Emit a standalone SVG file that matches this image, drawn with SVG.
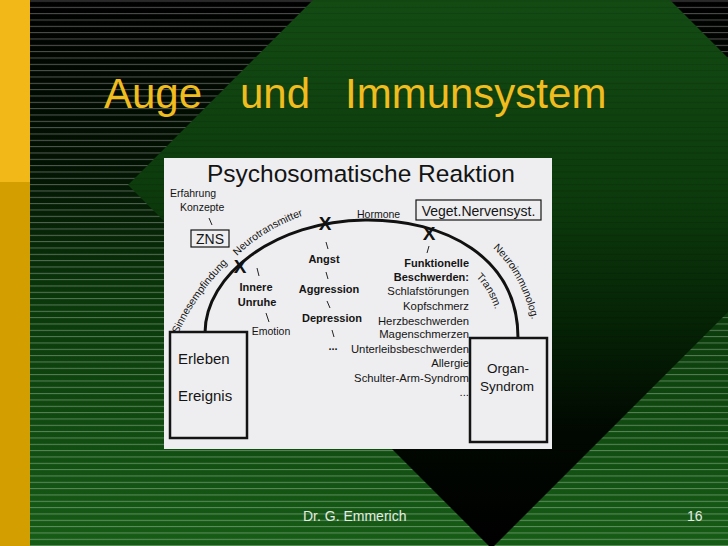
<svg xmlns="http://www.w3.org/2000/svg" width="728" height="546" viewBox="0 0 728 546">
<defs>
<linearGradient id="bgGrad" gradientUnits="userSpaceOnUse" x1="0" y1="0" x2="0" y2="546">
<stop offset="0" stop-color="#000000"/>
<stop offset="0.3" stop-color="#021202"/>
<stop offset="0.55" stop-color="#0a380a"/>
<stop offset="1" stop-color="#165c16"/>
</linearGradient>
<linearGradient id="diaGrad" gradientUnits="userSpaceOnUse" x1="0" y1="0" x2="0" y2="546">
<stop offset="0" stop-color="#134b13"/>
<stop offset="0.37" stop-color="#0c3a0c"/>
<stop offset="0.6" stop-color="#052205"/>
<stop offset="0.79" stop-color="#010801"/>
<stop offset="1" stop-color="#000000"/>
</linearGradient>
<pattern id="stripes" patternUnits="userSpaceOnUse" x="0" y="0.5" width="728" height="6.333">
<rect x="0" y="0" width="728" height="1" fill="#ffffff" fill-opacity="0.32"/>
</pattern>
<pattern id="stripesDark" patternUnits="userSpaceOnUse" x="0" y="0.5" width="728" height="6.333">
<rect x="0" y="0" width="728" height="1" fill="#000000" fill-opacity="0.12"/>
</pattern>
<path id="pSinn" d="M178,334 Q198,290 240,251"/>
<path id="pNeuro" d="M237,256 Q268,225 320,210"/>
<path id="pImmun" d="M493,248 Q525,278 535,334"/>
<path id="pTrans" d="M476,277 Q491,292 497,316"/>
</defs>
<style>
.f{font-family:"Liberation Sans",Arial,sans-serif}
.title{fill:#F0BC1E;font-size:42px}
.foot{fill:#e4ebe4;font-size:14px}
.ink{fill:#141414}
.s{font-size:10.5px}
.m{font-size:11.3px}
.bd{font-weight:bold;font-size:11px}
.box{fill:none;stroke:#141414;stroke-width:2.5}
.thin{fill:none;stroke:#141414;stroke-width:1.2}
.arc{fill:none;stroke:#111;stroke-width:3}
.tick{stroke:#222;stroke-width:1;fill:none}
.x{font-weight:bold;font-size:19px;fill:#111}
</style>
<g id="background">
<rect width="728" height="546" fill="url(#bgGrad)"/>
<rect width="728" height="546" fill="url(#stripes)"/>
<polygon points="491.5,-178.5 855,185 491.5,548.5 128,185" fill="url(#diaGrad)"/>
<polygon points="491.5,-178.5 855,185 491.5,548.5 128,185" fill="url(#stripesDark)"/>
<rect x="0" y="0" width="30" height="182" fill="#F2B817"/>
<rect x="0" y="182" width="30" height="364" fill="#D29E00"/>
</g>
<g id="title" class="f title">
<text x="104" y="108">Auge</text>
<text x="240" y="108">und</text>
<text x="345" y="108">Immunsystem</text>
</g>
<g id="footer" class="f foot">
<text x="303" y="521">Dr. G. Emmerich</text>
<text x="687" y="521">16</text>
</g>
<g id="scan">
<rect x="164" y="158" width="388" height="291" fill="#EEEEF0"/>
<text class="f ink" x="207" y="182" font-size="24.5">Psychosomatische Reaktion</text>
</g>
<g id="connectors">
<path class="arc" d="M205,333 C205,275 275,221 365,220 C445,219 518,257 518,338"/>
<line class="tick" x1="209" y1="218" x2="212" y2="225"/>
<line class="tick" x1="326" y1="242" x2="328" y2="249"/>
<line class="tick" x1="326" y1="272" x2="328" y2="279"/>
<line class="tick" x1="327" y1="301" x2="330" y2="308"/>
<line class="tick" x1="332" y1="330" x2="334" y2="337"/>
<line class="tick" x1="257" y1="268" x2="259" y2="276"/>
<line class="tick" x1="266" y1="313" x2="269" y2="322"/>
<line class="tick" x1="429" y1="246" x2="427" y2="253"/>
</g>
<g id="arc-labels" class="f ink s">
<text><textPath href="#pSinn">Sinnesempfindung</textPath></text>
<text><textPath href="#pNeuro">Neurotransmitter</textPath></text>
<text x="357" y="218">Hormone</text>
<text><textPath href="#pImmun">Neuroimmunolog.</textPath></text>
<text><textPath href="#pTrans">Transm.</textPath></text>
</g>
<g id="marks" class="f">
<text class="x" x="240" y="273" text-anchor="middle">X</text>
<text class="x" x="325" y="230" text-anchor="middle">X</text>
<text class="x" x="429" y="240" text-anchor="middle">X</text>
</g>
<g id="erfahrung" class="f ink s">
<text x="170" y="197">Erfahrung</text>
<text x="180" y="211">Konzepte</text>
</g>
<g id="zns">
<rect class="thin" x="191" y="230" width="38" height="17"/>
<text class="f ink" x="210" y="244" font-size="14" text-anchor="middle">ZNS</text>
</g>
<g id="veget">
<rect class="thin" x="416" y="200" width="125" height="20"/>
<text class="f ink" x="478.5" y="215.5" font-size="14" text-anchor="middle">Veget.Nervensyst.</text>
</g>
<g id="emotion" class="f ink" text-anchor="middle">
<text class="bd" x="256" y="291">Innere</text>
<text class="bd" x="257" y="306">Unruhe</text>
<text class="s" x="271" y="335">Emotion</text>
</g>
<g id="affekt" class="f ink bd" text-anchor="middle">
<text x="324" y="263">Angst</text>
<text x="329" y="293">Aggression</text>
<text x="332" y="322">Depression</text>
<text x="333" y="350">...</text>
</g>
<g id="beschwerden" class="f ink" text-anchor="end">
<text class="bd" x="469" y="267">Funktionelle</text>
<text class="bd" x="469" y="281">Beschwerden:</text>
<text class="m" x="469" y="295">Schlafstörungen</text>
<text class="m" x="469" y="310">Kopfschmerz</text>
<text class="m" x="469" y="325">Herzbeschwerden</text>
<text class="m" x="469" y="338">Magenschmerzen</text>
<text class="m" x="469" y="353">Unterleibsbeschwerden</text>
<text class="m" x="469" y="367">Allergie</text>
<text class="m" x="469" y="382">Schulter-Arm-Syndrom</text>
<text class="m" x="469" y="396">...</text>
</g>
<g id="erleben">
<rect class="box" x="170" y="332" width="77" height="106"/>
<text class="f ink" x="178" y="364" font-size="15">Erleben</text>
<text class="f ink" x="178" y="401" font-size="15">Ereignis</text>
</g>
<g id="organ">
<rect class="box" x="470" y="338" width="77" height="104"/>
<text class="f ink" x="508" y="373" font-size="13.5" text-anchor="middle">Organ-</text>
<text class="f ink" x="507" y="391" font-size="13.5" text-anchor="middle">Syndrom</text>
</g>
</svg>
